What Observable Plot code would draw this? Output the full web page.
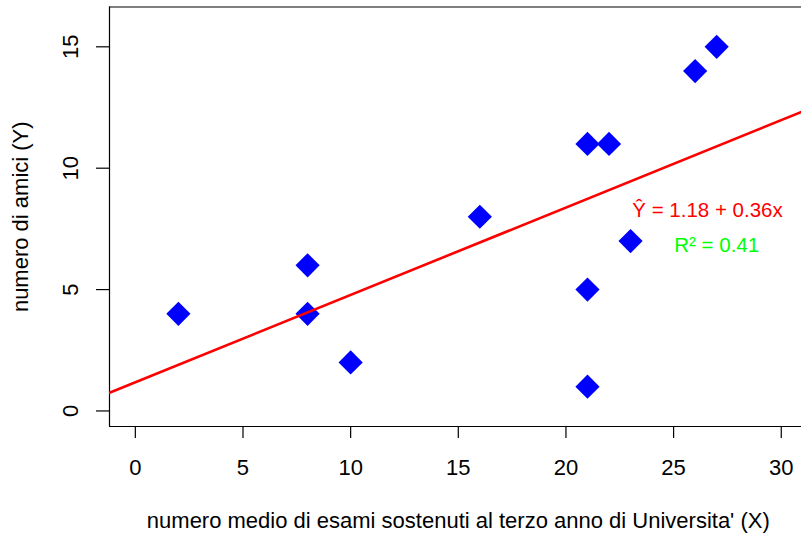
<!DOCTYPE html>
<html><head><meta charset="utf-8">
<script src="https://cdn.jsdelivr.net/npm/d3@7"></script>
<script src="https://cdn.jsdelivr.net/npm/@observablehq/plot@0.6"></script>
<style>html,body{margin:0;padding:0;background:#fff;overflow:hidden} svg{display:block}</style>
</head><body><div id="chart"></div>
<script>
// data
const esami = [2, 8, 8, 10, 16, 21, 21, 21, 22, 23, 26, 27];
const amici = [4, 6, 4, 2, 8, 11, 5, 1, 11, 7, 14, 15];
const xTicks = [0, 5, 10, 15, 20, 25, 30];
const yTicks = [0, 5, 10, 15];
const intercept = 1.18;
const slope = 0.36;
const eqLabel = "Ŷ = 1.18 + 0.36x";
const r2Label = "R² = 0.41";
const xTitle = "numero medio di esami sostenuti al terzo anno di Universita' (X)";
const yTitle = "numero di amici (Y)";

const xDomain = [-1.2, 30.94];
const yDomain = [-0.64, 16.64];

const points = esami.map((x, i) => ({x, y: amici[i]}));
const fit = xDomain.map(x => ({x, y: intercept + slope * x}));

const chart = Plot.plot({
  width: 801,
  height: 536,
  marginLeft: 109,
  marginRight: 0,
  marginTop: 6.5,
  marginBottom: 110,
  style: {fontFamily: "'Liberation Sans', Arial, Helvetica, sans-serif", background: "white", color: "black"},
  x: {domain: xDomain},
  y: {domain: yDomain},
  marks: [
    Plot.ruleY([yDomain[0], yDomain[1]], {stroke: "black", strokeWidth: 1.2}),
    Plot.ruleX([xDomain[0]], {stroke: "black", strokeWidth: 1.2}),
    Plot.axisX(xTicks, {anchor: "bottom", label: null, tickSize: 12, tickPadding: 21, fontSize: 22, stroke: "black", strokeWidth: 1.2}),
    Plot.axisY(yTicks, {anchor: "left", label: null, tickSize: 13, tickPadding: 19, tickRotate: -90, fontSize: 22, stroke: "black", strokeWidth: 1.2}),
    Plot.dot(points, {x: "x", y: "y", symbol: "diamond2", r: 10.9, fill: "#0000FF", stroke: "none"}),
    Plot.line(fit, {x: "x", y: "y", stroke: "#FF0000", strokeWidth: 2.6, clip: true}),
    Plot.text([eqLabel], {x: 23.08, y: 8.01, textAnchor: "start", lineAnchor: "bottom", fill: "#FF0000", fontSize: 20.5}),
    Plot.text([r2Label], {x: 25.03, y: 6.56, textAnchor: "start", lineAnchor: "bottom", fill: "#00FF00", fontSize: 20.5}),
    Plot.text([xTitle], {frameAnchor: "bottom", dx: 2.8, dy: 101, lineAnchor: "bottom", fontSize: 22, fill: "black"}),
    Plot.text([yTitle], {frameAnchor: "left", dx: -82, rotate: -90, textAnchor: "middle", lineAnchor: "bottom", fontSize: 22, fill: "black"})
  ]
});
document.getElementById("chart").appendChild(chart);
</script>
</body></html>
